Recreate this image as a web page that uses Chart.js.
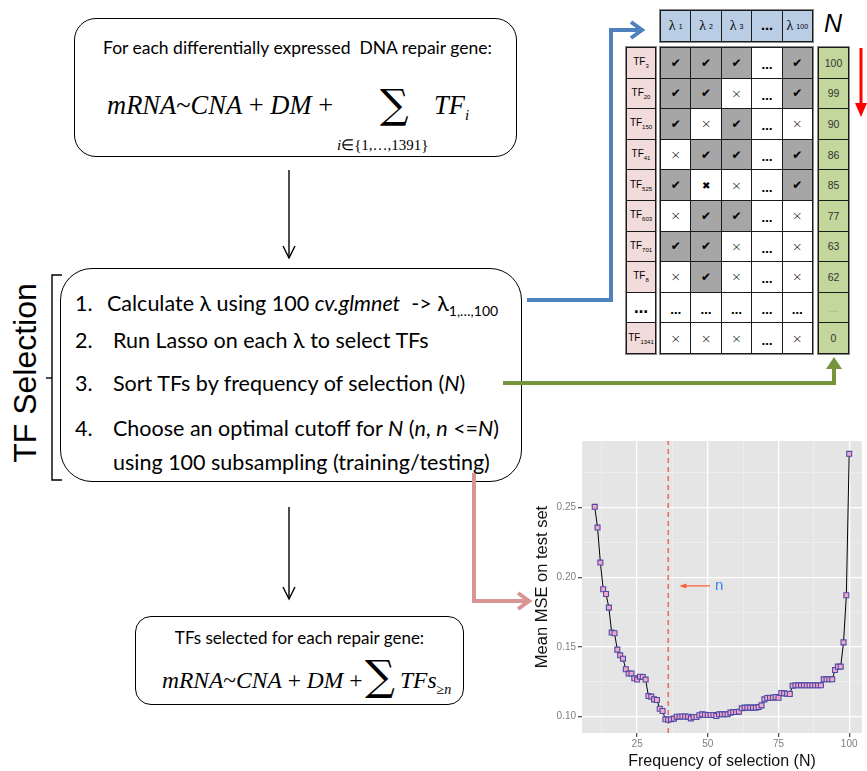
<!DOCTYPE html>
<html>
<head>
<meta charset="utf-8">
<script src="https://cdn.jsdelivr.net/npm/chart.js@4.4.1/dist/chart.umd.min.js"></script>
<style>
  html, body { margin: 0; padding: 0; background: #fff; }
  body { width: 867px; height: 771px; position: relative; overflow: hidden; font-family: Lato, "Open Sans", sans-serif; color: #000; }
  .abs { position: absolute; white-space: nowrap; }
  .box { position: absolute; border: 1.5px solid #000; box-sizing: border-box; }
  .math { font-family: "Liberation Serif", serif; }
  .step { font-size: 21.5px; line-height: 26px; }
  .cell { position: absolute; box-sizing: border-box; border: 1px solid #1a1a1a; display: flex; align-items: center; justify-content: center; font-family: "DejaVu Sans", sans-serif; }
  .block { position: absolute; box-sizing: border-box; border: 1.5px solid #8a8a8a; }
  #plot { position: absolute; left: 520px; top: 430px; }
  svg { position: absolute; left: 0; top: 0; }
</style>
</head>
<body>

<!-- top box -->
<div class="box" style="left:74px;top:18px;width:443px;height:139px;border-radius:22px;"></div>
<div class="abs" style="left:103px;top:37px;font-size:17.5px;line-height:22px;">For each differentially expressed&nbsp; DNA repair gene:</div>
<div class="abs math" style="left:107px;top:89px;font-size:26.5px;line-height:32px;"><i>mRNA</i>~<i>CNA</i> + <i>DM</i> +</div>
<div class="abs" style="left:380px;top:81px;font-size:40px;line-height:46px;font-family:'DejaVu Serif',serif;">∑</div>
<div class="abs math" style="left:434px;top:89px;font-size:26.5px;line-height:32px;"><i>TF</i><sub style="font-size:15px;"><i>i</i></sub></div>
<div class="abs math" style="left:337px;top:136px;font-size:15px;line-height:18px;"><i>i</i>∈{1,…,1391}</div>

<!-- middle box -->
<div class="box" style="left:60px;top:268px;width:462px;height:214px;border-radius:32px;"></div>
<div class="abs step" style="left:75px;top:290px;">1.</div>
<div class="abs step" style="left:107px;top:290px;">Calculate λ using 100 <i>cv.glmnet</i>&nbsp; -&gt; λ<sub style="font-size:14px;">1,…,100</sub></div>
<div class="abs step" style="left:75px;top:327px;">2.</div>
<div class="abs step" style="left:113px;top:327px;">Run Lasso on each λ to select TFs</div>
<div class="abs step" style="left:75px;top:370px;">3.</div>
<div class="abs step" style="left:113px;top:370px;">Sort TFs by frequency of selection (<i>N</i>)</div>
<div class="abs step" style="left:75px;top:415px;">4.</div>
<div class="abs step" style="left:113px;top:415px;">Choose an optimal cutoff for <i>N</i> (<i>n</i>, <i>n</i> &lt;=<i>N</i>)</div>
<div class="abs step" style="left:113px;top:449px;">using 100 subsampling (training/testing)</div>

<div class="abs" style="left:25px;top:373px;font-family:'Liberation Sans',sans-serif;font-size:32px;line-height:36px;transform:translate(-50%,-50%) rotate(-90deg);">TF Selection</div>

<!-- bottom box -->
<div class="box" style="left:135px;top:616px;width:329px;height:89px;border-radius:16px;"></div>
<div class="abs" style="left:135px;width:329px;text-align:center;top:627px;font-size:17px;line-height:22px;">TFs selected for each repair gene:</div>
<div class="abs math" style="left:162px;top:667px;font-size:23.5px;line-height:26px;"><i>mRNA</i>~<i>CNA</i> + <i>DM</i> +</div>
<div class="abs" style="left:365px;top:652px;font-size:42px;line-height:48px;font-family:'DejaVu Serif',serif;">∑</div>
<div class="abs math" style="left:400px;top:667px;font-size:23.5px;line-height:26px;"><i>TFs</i><sub style="font-size:14px;">≥<i>n</i></sub></div>

<!-- selection table -->
<div id="table"></div>
<div class="abs" style="left:824px;top:8px;font-family:'Liberation Sans',sans-serif;font-style:italic;font-size:25px;line-height:30px;">N</div>

<canvas id="plot" width="347" height="341"></canvas>

<svg width="867" height="771">
  <g fill="none" stroke="#000" stroke-width="1.4">
    <line x1="289" y1="170" x2="289" y2="257"/>
    <polyline points="283,246 289,258 295,246"/>
    <line x1="289" y1="507" x2="289" y2="598"/>
    <polyline points="283,587 289,599 295,587"/>
    <polyline points="62,275 52,275 52,480 62,480"/>
    <line x1="46" y1="378" x2="52" y2="378"/>
  </g>
  <g fill="none" stroke-width="4" stroke-linejoin="miter">
    <polyline stroke="#4f81bd" points="527,300 611,300 611,30 640,30"/>
    <polyline stroke="#4f81bd" points="631,22 642,30 631,38"/>
    <polyline stroke="#77933c" points="503,383 834,383 834,366"/>
    <polyline stroke="#d99594" points="474,473 474,601 527,601"/>
    <polyline stroke="#d99594" points="518,593 529,601 518,609"/>
    <line stroke="#ff0000" stroke-width="3" x1="861" y1="48" x2="861" y2="105"/>
  </g>
  <polygon fill="#77933c" points="834,357 826,369 842,369"/>
  <polygon fill="#ff0000" points="855,103 867,103 861,117"/>
</svg>

<script>
// selection table
const lambdaHeads = [['λ', '1'], ['λ', '2'], ['λ', '3'], ['…', ''], ['λ', '100']];
const tfNames = ['3', '20', '150', '41', '525', '603', '701', '8', '…', '1341'];
const selection = [
  ['v', 'v', 'v', 'd', 'v'],
  ['v', 'v', 'x', 'd', 'v'],
  ['v', 'x', 'v', 'd', 'x'],
  ['x', 'v', 'v', 'd', 'v'],
  ['v', 'X', 'x', 'd', 'v'],
  ['x', 'v', 'v', 'd', 'x'],
  ['v', 'v', 'x', 'd', 'x'],
  ['x', 'v', 'x', 'd', 'x'],
  ['d', 'd', 'd', 'd', 'd'],
  ['x', 'x', 'x', 'd', 'x']
];
const freqLabels = ['100', '99', '90', '86', '85', '77', '63', '62', '…', '0'];

// MSE curve
const freqN = [10, 11, 12, 13, 14, 15, 16, 17, 18, 19,
  20, 21, 22, 23, 24, 25, 26, 27, 28, 29,
  30, 31, 32, 33, 34, 35, 36, 37, 38, 39,
  40, 41, 42, 43, 44, 45, 46, 47, 48, 49,
  50, 51, 52, 53, 54, 55, 56, 57, 58, 59,
  60, 61, 62, 63, 64, 65, 66, 67, 68, 69,
  70, 71, 72, 73, 74, 75, 76, 77, 78, 79,
  80, 81, 82, 83, 84, 85, 86, 87, 88, 89,
  90, 91, 92, 93, 94, 95, 96, 97, 98, 99, 100];
const meanMSE = [0.2505, 0.2356, 0.2105, 0.1914, 0.1880, 0.1782, 0.1603, 0.1598, 0.1481, 0.1440,
  0.1416, 0.1340, 0.1309, 0.1309, 0.1275, 0.1266, 0.1287, 0.1285, 0.1266, 0.1148,
  0.1144, 0.1124, 0.1120, 0.1057, 0.1041, 0.0981, 0.0978, 0.0981, 0.0986, 0.1000,
  0.1000, 0.1001, 0.1001, 0.1000, 0.0988, 0.0998, 0.0998, 0.1010, 0.1017, 0.1014,
  0.1012, 0.1012, 0.1012, 0.1005, 0.1017, 0.1017, 0.1017, 0.1017, 0.1029, 0.1033,
  0.1033, 0.1036, 0.1060, 0.1065, 0.1065, 0.1065, 0.1065, 0.1065, 0.1069, 0.1081,
  0.1124, 0.1134, 0.1136, 0.1136, 0.1141, 0.1136, 0.1170, 0.1167, 0.1165, 0.1163,
  0.1222, 0.1225, 0.1225, 0.1225, 0.1225, 0.1225, 0.1225, 0.1225, 0.1225, 0.1225,
  0.1225, 0.1268, 0.1268, 0.1268, 0.1268, 0.1335, 0.1359, 0.1359, 0.1533, 0.1871, 0.2885];
const cutoffN = 36;
const arrowFrom = [50.8, 0.1938];
const arrowTo = [40.3, 0.1938];
const nLabelAt = [52.5, 0.1938];

const xRange = [5.5, 104.5];
const yRange = [0.0883, 0.2977];
const xMajor = [25, 50, 75, 100];
const xMinor = [12.5, 37.5, 62.5, 87.5];
const xTickLabels = ['25', '50', '75', '100'];
const yMajor = [0.10, 0.15, 0.20, 0.25];
const yMinor = [0.125, 0.175, 0.225, 0.275];
const yTickLabels = ['0.10', '0.15', '0.20', '0.25'];

function buildTable() {
  const t = document.getElementById('table');
  const colX = 660, colW = 30.4, top0 = 47, rowH = 30.6;
  const add = (html, x, y, w, h, bg) => {
    const d = document.createElement('div');
    d.className = 'cell';
    d.style.cssText = `left:${x}px;top:${y}px;width:${w + 1}px;height:${h + 1}px;background:${bg};`;
    d.innerHTML = html;
    t.appendChild(d);
  };
  const block = (x, y, w, h) => {
    const d = document.createElement('div');
    d.className = 'block';
    d.style.cssText = `left:${x - 1}px;top:${y - 1}px;width:${w + 3}px;height:${h + 3}px;`;
    t.appendChild(d);
  };
  lambdaHeads.forEach((h, i) => {
    const html = h[1]
      ? `<span style="font-family:'Liberation Serif',serif;font-size:14px;">${h[0]}</span><sub style="font-size:7px;margin-left:3px;font-family:'Liberation Sans';">${h[1]}</sub>`
      : `<b style="font-size:12px;">${h[0]}</b>`;
    add(html, colX + i * colW, 10, colW, 31, '#b9cde5');
  });
  block(colX, 10, colW * 5, 31);
  tfNames.forEach((n, r) => {
    const y = top0 + r * rowH;
    const lab = n === '…'
      ? '<b style="font-size:14px;">…</b>'
      : `<span style="font-family:'Liberation Sans';font-size:10px;">TF<sub style="font-size:6px;">${n}</sub></span>`;
    add(lab, 626, y, 29, rowH, n === '…' ? '#fff' : '#f2dcdb');
    selection[r].forEach((s, c) => {
      let html = '', bg = '#fff';
      if (s === 'v') { html = '<span style="font-size:12px;">✔</span>'; bg = '#a6a6a6'; }
      else if (s === 'x') html = '<span style="font-size:13px;font-weight:300;">×</span>';
      else if (s === 'X') html = '<span style="font-size:10px;">✖</span>';
      else html = '<b style="font-size:11px;position:relative;top:3px;">…</b>';
      add(html, colX + c * colW, y, colW, rowH, bg);
    });
    const f = freqLabels[r];
    add(`<span style="font-family:'Liberation Sans';font-size:10.5px;color:${f === '…' ? '#9aa080' : '#333'};">${f}</span>`, 818, y, 30, rowH, '#c3d69b');
  });
  block(626, top0, 29, rowH * 10);
  block(colX, top0, colW * 5, rowH * 10);
  block(818, top0, 30, rowH * 10);
}
buildTable();

const isIn = (arr, v) => arr.some(a => Math.abs(a - v) < 1e-9);
const tickFont = { family: 'Liberation Sans', size: 10 };

const panelPlugin = {
  id: 'panel',
  beforeDraw(chart) {
    const { ctx, chartArea: a } = chart;
    ctx.save();
    ctx.fillStyle = '#e5e5e5';
    ctx.fillRect(a.left, a.top, a.right - a.left, a.bottom - a.top);
    ctx.restore();
  },
  afterDatasetsDraw(chart) {
    const { ctx, scales: { x, y } } = chart;
    const tx = x.getPixelForValue(arrowTo[0]), ty = y.getPixelForValue(arrowTo[1]);
    ctx.save();
    ctx.fillStyle = '#ff5a36';
    ctx.beginPath();
    ctx.moveTo(tx - 1, ty);
    ctx.lineTo(tx + 6, ty - 2.5);
    ctx.lineTo(tx + 6, ty + 2.5);
    ctx.closePath();
    ctx.fill();
    ctx.fillStyle = '#3d7fe0';
    ctx.font = '15px "Liberation Sans"';
    ctx.textBaseline = 'middle';
    ctx.fillText('n', x.getPixelForValue(nLabelAt[0]), y.getPixelForValue(nLabelAt[1]));
    ctx.restore();
  }
};

new Chart(document.getElementById('plot'), {
  type: 'line',
  data: {
    datasets: [
      {
        data: freqN.map((n, i) => ({ x: n, y: meanMSE[i] })),
        borderColor: '#000',
        borderWidth: 1,
        pointStyle: 'rect',
        pointRadius: 3.5,
        pointBackgroundColor: '#f4a8c8',
        pointBorderColor: '#4b4ba8',
        pointBorderWidth: 1.1
      },
      {
        data: [{ x: cutoffN, y: yRange[0] }, { x: cutoffN, y: yRange[1] }],
        borderColor: '#f26a6a',
        borderWidth: 1.6,
        borderDash: [5, 4],
        pointRadius: 0
      },
      {
        data: [{ x: arrowFrom[0], y: arrowFrom[1] }, { x: arrowTo[0] + 1.5, y: arrowTo[1] }],
        borderColor: '#ff5a36',
        borderWidth: 1.2,
        pointRadius: 0
      }
    ]
  },
  options: {
    responsive: false,
    animation: false,
    devicePixelRatio: 1,
    layout: { padding: { left: 0, right: 4, top: 11, bottom: 0 } },
    plugins: { legend: { display: false }, tooltip: { enabled: false } },
    scales: {
      x: {
        type: 'linear',
        min: xRange[0],
        max: xRange[1],
        afterBuildTicks: s => { s.ticks = xMinor.concat(xMajor).sort((a, b) => a - b).map(v => ({ value: v })); },
        afterFit: s => { s.height = 38; },
        ticks: {
          autoSkip: false,
          maxRotation: 0,
          padding: 1,
          font: tickFont,
          color: '#7f7f7f',
          callback: v => { const i = xMajor.indexOf(v); return i < 0 ? '' : xTickLabels[i]; }
        },
        grid: {
          color: c => isIn(xMajor, c.tick.value) ? '#ffffff' : '#f2f2f2',
          lineWidth: c => isIn(xMajor, c.tick.value) ? 1.3 : 0.6,
          tickLength: 4,
          tickColor: c => isIn(xMajor, c.tick.value) ? '#555' : 'rgba(0,0,0,0)'
        },
        border: { display: false },
        title: {
          display: true,
          text: 'Frequency of selection (N)',
          font: { family: 'Liberation Sans', size: 16 },
          color: '#111',
          padding: { top: 0, bottom: 0 }
        }
      },
      y: {
        type: 'linear',
        min: yRange[0],
        max: yRange[1],
        afterBuildTicks: s => { s.ticks = yMinor.concat(yMajor).sort((a, b) => a - b).map(v => ({ value: v })); },
        afterFit: s => { s.width = 62; },
        ticks: {
          autoSkip: false,
          padding: 2,
          font: tickFont,
          color: '#7f7f7f',
          callback: v => { const i = yMajor.findIndex(a => Math.abs(a - v) < 1e-9); return i < 0 ? '' : yTickLabels[i]; }
        },
        grid: {
          color: c => isIn(yMajor, c.tick.value) ? '#ffffff' : '#f2f2f2',
          lineWidth: c => isIn(yMajor, c.tick.value) ? 1.3 : 0.6,
          tickLength: 4,
          tickColor: c => isIn(yMajor, c.tick.value) ? '#555' : 'rgba(0,0,0,0)'
        },
        border: { display: false },
        title: {
          display: true,
          text: 'Mean MSE on test set',
          font: { family: 'Liberation Sans', size: 16.5 },
          color: '#111',
          padding: { top: 13, bottom: 0 }
        }
      }
    }
  },
  plugins: [panelPlugin]
});
</script>
</body>
</html>
